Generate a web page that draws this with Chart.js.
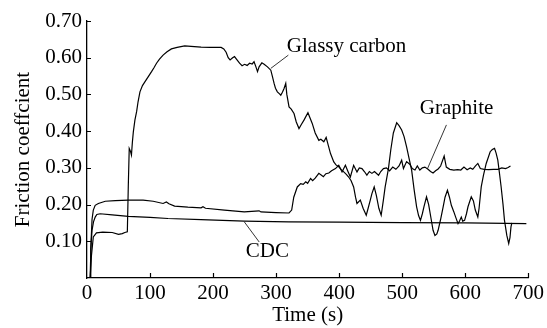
<!DOCTYPE html>
<html>
<head>
<meta charset="utf-8">
<script src="https://cdn.jsdelivr.net/npm/chart.js@4"></script>
<style>
  html, body { margin: 0; padding: 0; background: #fff; }
  #wrap { width: 547px; height: 328px; }
</style>
</head>
<body>
<div id="wrap"><canvas id="frictionChart" width="547" height="328"></canvas></div>
<script>
// Time (s) / friction coefficient
const glassyTime = [5, 7, 10, 15, 25, 40, 50, 56, 60, 64, 65.5, 67, 69, 70.5, 72, 73.5, 76, 78.7, 81, 84,
  88, 91.8, 97, 102.4, 106, 110.3, 115, 120.7, 127, 133.9, 143, 155, 165, 181, 195, 212.8, 217, 220.7, 224, 227,
  231, 234, 238, 242, 246, 250, 254, 258, 262, 265, 268, 270.5, 273, 277.4, 281, 286.3, 291.6, 294, 296.8, 299,
  302, 305, 307.4, 310, 312.6, 315.3, 317, 320.5, 324, 328.4, 332, 336.3, 340, 344.2, 350.5, 354, 357.3, 362, 367.8, 371,
  375.7, 379.4, 383, 386.3, 391.5, 395, 399.4, 403, 407.3, 411, 415.1, 419, 423, 426, 428.3, 433.6, 438, 443, 446, 449.4,
  452, 455.6, 459, 463, 466.7, 470, 473, 478.2, 482, 486, 491.3, 495, 499.2, 503, 507, 511, 515, 519, 522.9, 526,
  529, 532, 534.5, 538.6, 542, 546, 549, 552, 555, 557, 561, 565, 568, 571.8, 575, 578, 582, 585, 588.6, 591,
  593.8, 596, 599, 602, 604.4, 609.6, 613, 616, 620, 622, 625.4, 629, 633.3, 639.6, 643, 646.5, 649, 651.7, 654, 657,
  660, 662.3, 666, 669, 671, 672.6, 674];
const glassyFriction = [0.0, 0.06, 0.112, 0.123, 0.125, 0.124, 0.119, 0.121, 0.124, 0.126, 0.25, 0.353, 0.345, 0.335, 0.37, 0.398, 0.43, 0.453, 0.48, 0.507,
  0.524, 0.534, 0.548, 0.562, 0.572, 0.585, 0.596, 0.607, 0.616, 0.624, 0.628, 0.632, 0.631, 0.629, 0.628, 0.628, 0.624, 0.615, 0.600, 0.594,
  0.600, 0.603, 0.594, 0.585, 0.578, 0.582, 0.579, 0.585, 0.583, 0.589, 0.575, 0.562, 0.575, 0.586, 0.582, 0.575, 0.566, 0.55, 0.53, 0.517,
  0.507, 0.502, 0.498, 0.506, 0.516, 0.53, 0.5, 0.466, 0.46, 0.448, 0.425, 0.407, 0.418, 0.43, 0.45, 0.435, 0.421, 0.395, 0.375, 0.378,
  0.371, 0.383, 0.36, 0.339, 0.316, 0.308, 0.303, 0.296, 0.289, 0.283, 0.275, 0.265, 0.248, 0.22, 0.203, 0.212, 0.19, 0.171, 0.19, 0.212,
  0.23, 0.248, 0.225, 0.19, 0.171, 0.21, 0.248, 0.298, 0.35, 0.395, 0.423, 0.415, 0.403, 0.385, 0.357, 0.325, 0.294, 0.24, 0.194, 0.17,
  0.157, 0.175, 0.194, 0.221, 0.2, 0.16, 0.13, 0.116, 0.12, 0.13, 0.16, 0.194, 0.22, 0.239, 0.22, 0.198, 0.18, 0.165, 0.148, 0.155,
  0.166, 0.155, 0.157, 0.175, 0.194, 0.221, 0.21, 0.185, 0.166, 0.19, 0.248, 0.28, 0.312, 0.344, 0.35, 0.353, 0.34, 0.321, 0.29, 0.248,
  0.2, 0.157, 0.116, 0.094, 0.11, 0.139, 0.15];

const graphiteTime = [5, 6.5, 8, 10, 13, 18, 29, 45, 65.5, 89, 105, 120.7, 125.9, 130, 139, 160, 181, 184, 188, 218,
  249.5, 273, 276, 300, 320.5, 324.7, 328, 333.6, 338.9, 343, 347, 350, 354.7, 358, 362, 367.8, 372, 375, 379, 383.6,
  388, 394.2, 399.4, 404.6, 409.9, 414, 417.8, 423, 428.3, 432, 436.2, 440, 444, 448, 452, 456, 462.5, 466, 470.3, 475,
  480, 485, 490, 495, 499.2, 502, 507, 512, 516, 520.3, 524, 528, 532, 536, 541, 545, 549, 553, 557, 561,
  566.6, 570, 575.5, 582, 588, 593, 598, 603, 608, 612, 616, 620, 624, 630, 637, 645, 652, 658, 664, 668, 671.8];
const graphiteFriction = [0.0, 0.1, 0.16, 0.185, 0.198, 0.203, 0.209, 0.211, 0.212, 0.212, 0.209, 0.203, 0.207, 0.202, 0.196, 0.193, 0.191, 0.194, 0.19, 0.185,
  0.18, 0.183, 0.18, 0.178, 0.177, 0.185, 0.22, 0.248, 0.257, 0.255, 0.262, 0.258, 0.271, 0.265, 0.272, 0.285, 0.28, 0.276, 0.284, 0.286,
  0.292, 0.298, 0.307, 0.289, 0.307, 0.29, 0.275, 0.307, 0.289, 0.30, 0.298, 0.29, 0.28, 0.29, 0.285, 0.29, 0.28, 0.29, 0.298, 0.30,
  0.292, 0.302, 0.296, 0.305, 0.321, 0.298, 0.317, 0.31, 0.298, 0.294, 0.305, 0.294, 0.3, 0.302, 0.296, 0.29, 0.286, 0.292, 0.297, 0.305,
  0.332, 0.302, 0.296, 0.294, 0.295, 0.294, 0.302, 0.295, 0.3, 0.296, 0.305, 0.312, 0.298, 0.296, 0.295, 0.296, 0.296, 0.3, 0.298, 0.301, 0.305];

const cdcTime = [5, 6, 8, 10.3, 13, 15.6, 20.9, 40, 65.5, 100, 128.5, 181, 249.5, 320, 400, 500, 600, 697];
const cdcFriction = [0.0, 0.08, 0.13, 0.153, 0.166, 0.173, 0.175, 0.172, 0.168, 0.165, 0.162, 0.159, 0.155, 0.153, 0.152, 0.151, 0.15, 0.148];

const xTicks = [0, 100, 200, 300, 400, 500, 600, 700];
const yTicks = [0.10, 0.20, 0.30, 0.40, 0.50, 0.60, 0.70];

const FONT_FAMILY = "'Liberation Serif', 'Times New Roman', serif";
const FONT_SIZE = 21;

function points(xs, ys) {
  return xs.map((t, i) => ({ x: t, y: ys[i] }));
}

// curve names with their leader lines, in data units
const curveLabels = [
  { text: "Glassy carbon", at: [317, 0.63], from: [291.6, 0.571], to: [319.4, 0.607] },
  { text: "Graphite", at: [528, 0.463], from: [540.2, 0.298], to: [570.2, 0.417] },
  { text: "CDC", at: [252, 0.071], from: [249.5, 0.153], to: [273.2, 0.098] }
];

const annotate = {
  id: "annotate",
  afterDatasetsDraw(chart) {
    const { ctx, scales: { x, y } } = chart;
    ctx.save();
    ctx.strokeStyle = "#000";
    ctx.fillStyle = "#000";

    // leader lines + text
    ctx.lineWidth = 0.8;
    ctx.font = FONT_SIZE + "px " + FONT_FAMILY;
    ctx.textAlign = "left";
    ctx.textBaseline = "middle";
    curveLabels.forEach(l => {
      ctx.beginPath();
      ctx.moveTo(x.getPixelForValue(l.from[0]), y.getPixelForValue(l.from[1]));
      ctx.lineTo(x.getPixelForValue(l.to[0]), y.getPixelForValue(l.to[1]));
      ctx.stroke();
      ctx.fillText(l.text, x.getPixelForValue(l.at[0]), y.getPixelForValue(l.at[1]));
    });

    // tick marks point inward
    ctx.lineWidth = 1.2;
    ctx.beginPath();
    yTicks.forEach(v => {
      const py = Math.round(y.getPixelForValue(v)) + 0.5;
      ctx.moveTo(x.left, py);
      ctx.lineTo(x.left + 4, py);
    });
    xTicks.slice(1).forEach(v => {
      const px = Math.round(x.getPixelForValue(v)) + 0.5;
      ctx.moveTo(px, y.bottom);
      ctx.lineTo(px, y.bottom - 5);
    });
    ctx.stroke();
    ctx.restore();
  }
};

const lineStyle = { borderColor: "#000", borderWidth: 1.2, pointRadius: 0, tension: 0, fill: false };

new Chart(document.getElementById("frictionChart"), {
  type: "line",
  data: {
    datasets: [
      { label: "Glassy carbon", data: points(glassyTime, glassyFriction), ...lineStyle },
      { label: "Graphite", data: points(graphiteTime, graphiteFriction), ...lineStyle },
      { label: "CDC", data: points(cdcTime, cdcFriction), ...lineStyle }
    ]
  },
  options: {
    responsive: false,
    animation: false,
    devicePixelRatio: 1,
    layout: { padding: { top: 21, right: 17, bottom: 0, left: 0 } },
    plugins: { legend: { display: false }, tooltip: { enabled: false } },
    scales: {
      x: {
        type: "linear",
        min: 0,
        max: 700,
        afterBuildTicks: s => { s.ticks = xTicks.map(v => ({ value: v })); },
        afterFit: s => { s.height = 50; },
        grid: { display: false, drawTicks: false },
        border: { display: true, color: "#000", width: 1.3 },
        ticks: { color: "#000", padding: 3, font: { family: FONT_FAMILY, size: FONT_SIZE }, maxRotation: 0 },
        title: { display: true, text: "Time (s)", color: "#000", padding: { top: 0, bottom: 0 }, font: { family: FONT_FAMILY, size: FONT_SIZE } }
      },
      y: {
        min: 0,
        max: 0.7,
        afterBuildTicks: s => { s.ticks = [0].concat(yTicks).map(v => ({ value: v })); },
        afterFit: s => { s.width = 87; },
        grid: { display: false, drawTicks: false },
        border: { display: true, color: "#000", width: 1.3 },
        ticks: {
          color: "#000",
          padding: 5,
          font: { family: FONT_FAMILY, size: FONT_SIZE },
          callback: v => (v === 0 ? "" : v.toFixed(2))
        },
        title: { display: true, text: "Friction coeffcient", color: "#000", padding: { top: 11, bottom: 0 }, font: { family: FONT_FAMILY, size: FONT_SIZE } }
      }
    }
  },
  plugins: [annotate]
});
</script>
</body>
</html>
